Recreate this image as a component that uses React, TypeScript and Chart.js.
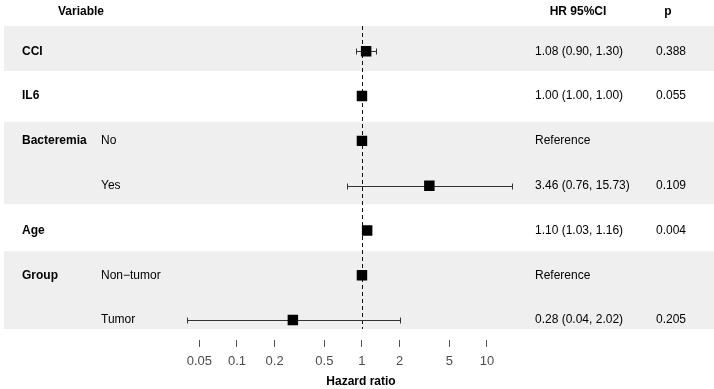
import React, { useEffect, useRef } from "react";
import { Chart, registerables } from "chart.js";

Chart.register(...registerables);

// Forest plot rows, top to bottom
const variables = ["CCI", "IL6", "Bacteremia", "", "Age", "Group", ""];
const levels = ["", "", "No", "Yes", "", "Non\u2212tumor", "Tumor"];
const hazardRatios = [1.08, 1.0, 1.0, 3.46, 1.1, 1.0, 0.28];
const ciLower: (number | null)[] = [0.9, 1.0, null, 0.76, 1.03, null, 0.04];
const ciUpper: (number | null)[] = [1.3, 1.0, null, 15.73, 1.16, null, 2.02];
const pValues: (number | null)[] = [0.388, 0.055, null, 0.109, 0.004, null, 0.205];
const isReference = [false, false, true, false, false, true, false];

// Shaded blocks, one per alternating variable group (row index ranges)
const shadedGroups: [number, number][] = [
  [0, 0],
  [2, 3],
  [5, 6],
];

const xTicks = [0.05, 0.1, 0.2, 0.5, 1, 2, 5, 10];

const FONT = "'Liberation Sans', Arial, Helvetica, sans-serif";

function fmt2(v: number) {
  return v.toFixed(2);
}

export default function App() {
  const canvasRef = useRef<HTMLCanvasElement | null>(null);

  useEffect(() => {
    const canvas = canvasRef.current;
    if (!canvas) return;

    const points = hazardRatios.map((hr, i) => ({ x: hr, y: i }));

    const bandEdge = (first: number, last: number): [number, number] => {
      const topOffsets: Record<number, number> = { 0: -0.565, 2: 1.574, 5: 4.464 };
      const botOffsets: Record<number, number> = { 0: 0.44, 3: 3.415, 6: 6.2 };
      return [topOffsets[first], botOffsets[last]];
    };

    const decor = {
      id: "forestDecor",
      beforeDraw(chart: any) {
        const { ctx, scales } = chart;
        const y = scales.y;
        ctx.save();
        ctx.fillStyle = "#ffffff";
        ctx.fillRect(0, 0, chart.width, chart.height);
        ctx.fillStyle = "#EFEFEF";
        for (const [a, b] of shadedGroups) {
          const [t, bt] = bandEdge(a, b);
          const y0 = y.getPixelForValue(t);
          const y1 = y.getPixelForValue(bt);
          ctx.fillRect(4, y0, chart.width - 4, y1 - y0);
        }
        ctx.restore();
      },
      beforeDatasetsDraw(chart: any) {
        const { ctx, scales } = chart;
        const x = scales.x;
        const y = scales.y;
        ctx.save();
        const x1 = Math.round(x.getPixelForValue(1)) + 0.5;
        ctx.strokeStyle = "#111";
        ctx.lineWidth = 1;
        ctx.setLineDash([4, 3]);
        ctx.beginPath();
        ctx.moveTo(x1, y.getPixelForValue(-0.565));
        ctx.lineTo(x1, y.getPixelForValue(6.2));
        ctx.stroke();
        ctx.setLineDash([]);

        ctx.strokeStyle = "#333";
        ctx.lineWidth = 1;
        hazardRatios.forEach((_, i) => {
          const lo = ciLower[i];
          const hi = ciUpper[i];
          if (lo == null || hi == null) return;
          const yp = Math.round(y.getPixelForValue(i)) + 0.5;
          const xl = Math.round(x.getPixelForValue(lo)) + 0.5;
          const xh = Math.round(x.getPixelForValue(hi)) + 0.5;
          ctx.beginPath();
          ctx.moveTo(xl, yp);
          ctx.lineTo(xh, yp);
          ctx.moveTo(xl, yp - 3);
          ctx.lineTo(xl, yp + 3);
          ctx.moveTo(xh, yp - 3);
          ctx.lineTo(xh, yp + 3);
          ctx.stroke();
        });
        ctx.restore();
      },
      afterDraw(chart: any) {
        const { ctx, scales } = chart;
        const y = scales.y;
        ctx.save();
        ctx.fillStyle = "#000";
        ctx.textBaseline = "middle";

        ctx.font = `bold 12px ${FONT}`;
        ctx.textAlign = "left";
        ctx.fillText("Variable", 58, 11.5);
        ctx.textAlign = "center";
        ctx.fillText("HR 95%CI", 578, 11.5);
        ctx.fillText("p", 668, 11.5);

        hazardRatios.forEach((hr, i) => {
          const yp = y.getPixelForValue(i);
          ctx.textAlign = "left";
          if (variables[i]) {
            ctx.font = `bold 12px ${FONT}`;
            ctx.fillText(variables[i], 22, yp);
          }
          ctx.font = `12px ${FONT}`;
          if (levels[i]) ctx.fillText(levels[i], 101, yp);
          let hrText = "Reference";
          if (!isReference[i]) {
            hrText = `${fmt2(hr)} (${fmt2(ciLower[i] as number)}, ${fmt2(ciUpper[i] as number)})`;
          }
          ctx.fillText(hrText, 535, yp);
          const p = pValues[i];
          if (p != null) ctx.fillText(p.toFixed(3), 656, yp);
        });

        ctx.font = `bold 12px ${FONT}`;
        ctx.textAlign = "center";
        ctx.fillText("Hazard ratio", 361, 381.5);
        ctx.restore();
      },
    };

    const chart = new Chart(canvas, {
      type: "scatter",
      data: {
        datasets: [
          {
            data: points,
            pointStyle: "rect",
            pointRadius: 7.4,
            pointHoverRadius: 7.4,
            pointBackgroundColor: "#000",
            pointBorderWidth: 0,
            pointBorderColor: "#000",
          },
        ],
      },
      options: {
        animation: false,
        responsive: false,
        events: [],
        layout: { padding: { left: 171.6, right: 189.4, top: 26, bottom: 13.5 } },
        plugins: {
          legend: { display: false },
          tooltip: { enabled: false },
        },
        scales: {
          x: {
            type: "logarithmic",
            min: 0.03,
            max: 20,
            afterBuildTicks: (scale: any) => {
              scale.ticks = xTicks.map((v) => ({ value: v }));
            },
            border: { display: false },
            grid: {
              display: true,
              drawOnChartArea: false,
              drawTicks: true,
              tickLength: 7,
              color: "#4D4D4D",
              lineWidth: 1,
            },
            ticks: {
              autoSkip: false,
              maxRotation: 0,
              minRotation: 0,
              padding: 6.5,
              color: "#4D4D4D",
              font: { family: FONT, size: 13 },
              callback: (v: any) => String(v),
            },
          },
          y: {
            type: "linear",
            display: false,
            reverse: true,
            min: -0.565,
            max: 6.444,
          },
        },
      },
      plugins: [decor],
    } as any);

    return () => chart.destroy();
  }, []);

  return (
    <div style={{ position: "fixed", left: 0, top: 0, width: 714, height: 389, background: "#fff" }}>
      <canvas ref={canvasRef} width={714} height={389} style={{ display: "block" }} />
    </div>
  );
}
